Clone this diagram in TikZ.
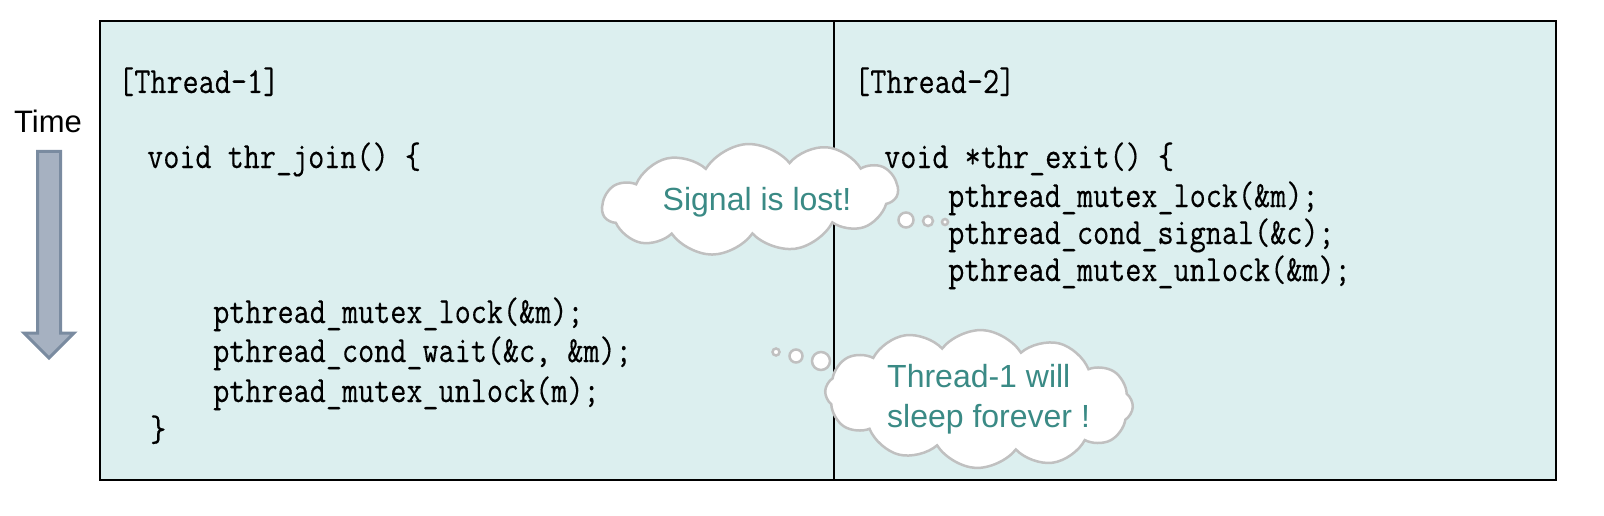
\documentclass[tikz,border=0pt]{standalone}
\usepackage{fontspec}
\newfontfamily\codefont{Latin Modern Mono}[FakeStretch=0.845,FakeBold=0.3]
\newfontfamily\arialfont{Liberation Sans}
\usetikzlibrary{shapes.symbols}
\definecolor{boxfill}{RGB}{220,239,239}
\definecolor{tealtext}{RGB}{58,138,133}
\definecolor{cloudline}{RGB}{192,192,192}
\definecolor{arrowfill}{RGB}{166,177,193}
\definecolor{arrowline}{RGB}{122,139,160}
\tikzset{
  code/.style={font=\codefont\fontsize{37}{40}\selectfont, inner sep=0pt, anchor=base west, text=black},
  cloudtext/.style={font=\arialfont\fontsize{32}{40}\selectfont, inner sep=0pt, anchor=base west, text=tealtext},
  thought/.style={cloud, cloud ignores aspect, draw=cloudline, line width=2.5pt, fill=white, inner sep=0pt},
  bubble/.style={circle, draw=cloudline, line width=2.5pt, fill=white, inner sep=0pt},
}
\begin{document}
\begin{tikzpicture}[x=1pt,y=-1pt]
\useasboundingbox (0,0) rectangle (1604,516);
% panels
\draw[line width=1.5pt, fill=boxfill] (100,21) rectangle (1556,480);
\draw[line width=1.5pt] (834,21) -- (834,480);
% time arrow
\node[font=\arialfont\fontsize{31}{36}\selectfont, inner sep=0pt, anchor=base] (time) at (48,133) {Time};
\draw[line width=3pt, draw=arrowline, fill=arrowfill, line join=miter]
  (37.5,151.5) -- (60.5,151.5) -- (60.5,333) -- (74,333) -- (49,358) -- (24,333) -- (37.5,333) -- cycle;
% Thread 1
\node[code] (t1) at (118,93) {[Thread-1]};
\node[code] (t1a) at (147,168) {void thr\_join() \{};
\node[code] (t1b) at (213,323) {pthread\_mutex\_lock(\&m);};
\node[code] (t1c) at (213,362) {pthread\_cond\_wait(\&c, \&m);};
\node[code] (t1d) at (213,402) {pthread\_mutex\_unlock(m);};
\node[code] (t1e) at (150,441) {\}};
% Thread 2
\node[code] (t2) at (854,93) {[Thread-2]};
\node[code] (t2a) at (884,168) {void *thr\_exit() \{};
\node[code] (t2b) at (948,207) {pthread\_mutex\_lock(\&m);};
\node[code] (t2c) at (948,244) {pthread\_cond\_signal(\&c);};
\node[code] (t2d) at (948,281) {pthread\_mutex\_unlock(\&m);};
% cloud 1
\node[thought, cloud puffs=11, cloud puff arc=110, minimum width=296pt, minimum height=110pt, rotate=4] (c1) at (750,199) {};
\node[cloudtext, anchor=base] (c1t) at (757,210) {Signal is lost!};
\node[bubble, minimum size=15pt] (b1a) at (906,220) {};
\node[bubble, minimum size=10pt] (b1b) at (928,221) {};
\node[bubble, minimum size=6pt] (b1c) at (945,222) {};
% cloud 2
\node[thought, cloud puffs=12, cloud puff arc=110, minimum width=308pt, minimum height=138pt, rotate=-3] (c2) at (979,399) {};
\node[cloudtext] (c2a) at (887,387) {Thread-1 will};
\node[cloudtext] (c2b) at (887,427) {sleep forever !};
\node[bubble, minimum size=7pt] (b2a) at (776,352) {};
\node[bubble, minimum size=13pt] (b2b) at (796,356) {};
\node[bubble, minimum size=18pt] (b2c) at (821,361) {};
\end{tikzpicture}
\end{document}
